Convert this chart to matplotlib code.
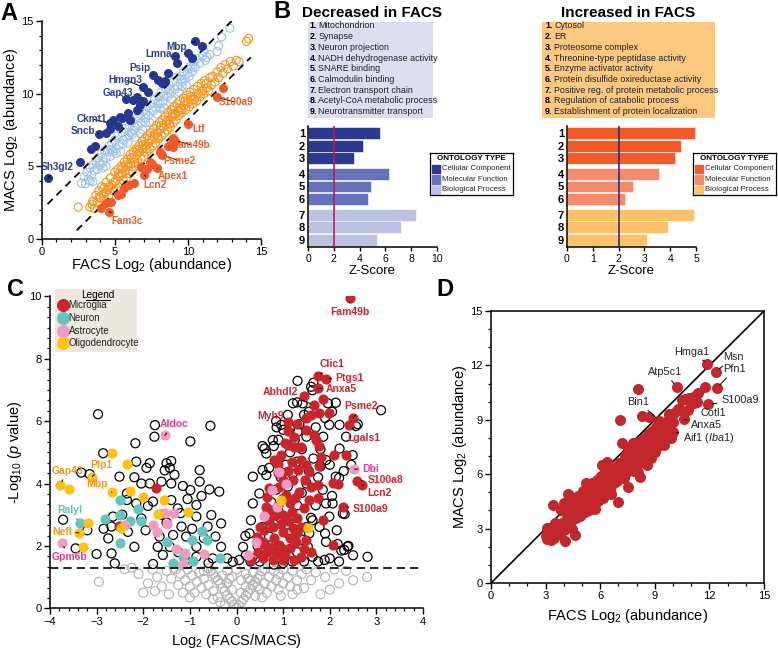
import numpy as np
import matplotlib
matplotlib.use('Agg')
import matplotlib.pyplot as plt
from matplotlib.ticker import MultipleLocator
from matplotlib.patches import Rectangle

plt.rcParams['font.family'] = ['Liberation Sans', 'DejaVu Sans']
plt.rcParams['mathtext.fontset'] = 'custom'
plt.rcParams['mathtext.rm'] = 'Liberation Sans'
plt.rcParams['mathtext.it'] = 'Liberation Sans:italic'
plt.rcParams['mathtext.bf'] = 'Liberation Sans:bold'

# ---------------- panel A data (FACS vs MACS log2 abundance) ----------------
a_up_names = ['Sh3gl2', 'Sncb', 'Ckmt1', 'Gap43', 'Hmgn3', 'Psip', 'Lmna', 'Mbp']
a_up = np.array([(0.45, 4.18), (3.9, 7.23), (4.67, 7.96), (5.76, 9.63), (6.95, 10.44),
                 (7.64, 11.3), (9.12, 12.56), (10.5, 13.59),
                 (2.62, 5.28), (3.35, 6.17), (3.65, 6.4), (4.67, 7.6), (5.24, 7.77),
                 (5.47, 8.3), (5.92, 8.65), (6.49, 8.9), (6.72, 9.24), (6.26, 9.58),
                 (6.49, 9.77), (6.95, 9.47), (7.98, 10.96), (8.21, 10.73), (8.67, 11.42),
                 (8.44, 10.85), (9.24, 12.1), (10.04, 12.79), (10.27, 12.44), (10.95, 13.31),
                 (4.85, 8.19), (5.35, 8.42), (6.03, 8.19), (4.4, 7.3), (7.3, 10.1)])
a_down_names = ['S100a9', 'Ltf', 'Fam49b', 'Psme2', 'Apex1', 'Lcn2', 'Fam3c']
a_down = np.array([(11.96, 9.75), (10.02, 7.91), (9.11, 6.77), (8.2, 5.78), (7.9, 4.88),
                   (7.03, 4.39), (4.63, 1.88),
                   (12.37, 10.38), (9.0, 6.93), (8.88, 6.59), (8.65, 6.4), (8.09, 6.01),
                   (7.44, 5.33), (7.55, 5.17), (7.17, 4.8), (6.76, 4.98), (6.3, 3.83),
                   (5.97, 3.72), (5.22, 3.03), (5.4, 3.1), (4.74, 2.57), (4.4, 2.5),
                   (4.06, 2.11), (8.95, 6.3), (5.6, 3.5)])
a_light = np.array([
    (2.73, 3.83), (2.9, 4.3), (3.0, 3.8), (3.1, 4.6), (3.2, 4.1), (3.3, 4.9), (3.4, 4.4),
    (3.5, 5.1), (3.6, 4.7), (3.5, 3.95), (3.7, 5.4), (3.8, 4.8), (3.9, 5.6), (4.0, 5.1),
    (4.1, 5.9), (4.2, 5.3), (4.3, 6.1), (4.4, 5.6), (4.5, 6.0), (4.4, 5.0), (4.6, 6.4),
    (4.7, 5.7), (4.8, 6.6), (4.9, 6.0), (5.0, 6.8), (5.1, 6.2), (5.2, 7.1), (5.3, 6.5),
    (5.4, 6.0), (5.5, 7.3), (5.6, 6.8), (5.7, 7.6), (5.8, 7.0), (5.9, 6.6), (6.0, 7.8),
    (6.1, 7.3), (6.2, 8.1), (6.3, 7.5), (6.4, 7.0), (6.5, 8.3), (6.6, 7.8), (6.7, 8.6),
    (6.8, 8.0), (6.9, 7.5), (7.0, 8.8), (7.1, 8.3), (7.2, 9.1), (7.3, 8.5), (7.4, 8.0),
    (7.5, 9.3), (7.6, 8.8), (7.7, 9.6), (7.8, 9.0), (7.9, 8.6), (8.0, 9.8), (8.1, 9.3),
    (8.2, 10.1), (8.3, 9.5), (8.4, 9.0), (8.5, 10.3), (8.6, 9.8), (8.7, 10.6), (8.8, 10.0),
    (8.9, 9.6), (9.0, 10.8), (9.1, 10.3), (9.2, 11.1), (9.3, 10.5), (9.4, 10.1),
    (9.5, 11.2), (9.6, 10.8), (9.7, 11.5), (9.8, 11.0), (9.9, 10.6), (10.0, 11.7),
    (10.1, 11.2), (10.2, 11.9), (10.3, 11.5), (10.4, 12.2), (10.5, 11.8), (10.6, 12.4),
    (10.8, 12.1), (11.0, 12.6), (11.1, 12.9), (11.3, 12.5), (11.5, 12.7), (12.0, 12.9),
    (12.1, 13.3), (12.3, 13.9), (12.87, 14.5), (6.2, 7.2), (7.1, 8.0), (8.1, 9.0),
    (9.6, 10.5), (5.1, 5.9), (4.2, 4.9), (3.3, 4.0), (3.95, 5.25), (4.75, 6.15),
    (5.55, 6.55), (6.35, 7.75), (7.15, 8.65), (7.95, 9.35), (8.75, 10.25), (9.55, 10.95),
    (10.35, 11.85), (11.2, 12.3), (6.75, 7.25), (8.35, 9.85), (9.95, 11.35), (5.95, 7.15)])
a_orange = np.array([
    (2.5, 2.2), (3.3, 2.2), (3.5, 2.6), (3.6, 2.1), (3.7, 3.0), (3.8, 2.5), (3.9, 3.3),
    (4.0, 2.8), (4.1, 3.6), (4.2, 3.1), (4.3, 2.7), (4.4, 3.9), (4.5, 3.4), (4.6, 3.0),
    (4.7, 4.2), (4.8, 3.7), (4.9, 3.3), (5.0, 4.6), (5.05, 4.0), (5.1, 3.5), (5.2, 4.8),
    (5.3, 4.3), (5.35, 3.8), (5.45, 5.0), (5.5, 4.5), (5.6, 4.0), (5.65, 5.3), (5.7, 4.7),
    (5.8, 4.2), (5.85, 5.5), (5.9, 5.0), (6.0, 4.5), (6.05, 5.8), (6.1, 5.2), (6.2, 4.7),
    (6.25, 6.0), (6.3, 5.5), (6.4, 5.0), (6.45, 6.2), (6.5, 5.8), (6.6, 5.2), (6.65, 6.4),
    (6.7, 6.0), (6.8, 5.5), (6.85, 6.7), (6.9, 6.2), (7.0, 5.7), (7.05, 6.9), (7.1, 6.4),
    (7.2, 6.0), (7.25, 7.1), (7.3, 6.6), (7.4, 6.2), (7.45, 7.3), (7.5, 6.8), (7.6, 6.4),
    (7.65, 7.6), (7.7, 7.0), (7.8, 6.6), (7.85, 7.8), (7.9, 7.3), (8.0, 6.9), (8.05, 8.0),
    (8.1, 7.5), (8.2, 7.1), (8.25, 8.2), (8.3, 7.7), (8.4, 7.3), (8.45, 8.4), (8.5, 7.9),
    (8.6, 7.5), (8.65, 8.7), (8.7, 8.2), (8.8, 7.7), (8.85, 8.9), (8.9, 8.4), (9.0, 8.0),
    (9.05, 9.1), (9.1, 8.6), (9.2, 8.2), (9.25, 9.3), (9.3, 8.8), (9.4, 8.5), (9.45, 9.5),
    (9.5, 9.0), (9.6, 8.7), (9.7, 9.7), (9.75, 9.2), (9.85, 8.9), (9.9, 9.9), (10.0, 9.4),
    (10.1, 9.1), (10.15, 10.1), (10.25, 9.6), (10.35, 9.3), (10.4, 10.3), (10.5, 9.8),
    (10.6, 9.5), (10.65, 10.5), (10.75, 10.0), (10.85, 9.8), (10.9, 10.7), (11.0, 10.2),
    (11.1, 10.0), (11.15, 10.9), (11.3, 10.4), (11.4, 10.2), (11.5, 11.1), (11.6, 10.6),
    (11.7, 11.2), (11.85, 10.8), (12.0, 11.5), (12.1, 11.1), (12.25, 11.8), (12.4, 11.4),
    (12.55, 12.0), (12.7, 11.7), (12.9, 12.2), (13.1, 11.9), (13.3, 12.3), (13.5, 12.2),
    (14.0, 13.6), (14.15, 13.8), (4.6, 3.6), (5.4, 4.4), (6.15, 5.6), (6.95, 6.5),
    (7.75, 7.2), (8.55, 8.1), (9.35, 9.0), (10.2, 9.8), (5.75, 5.1), (7.35, 6.9),
    (8.95, 8.6), (4.25, 3.5), (3.95, 2.9), (4.35, 3.2), (4.95, 3.9), (5.55, 4.9),
    (6.35, 5.3), (7.15, 6.2), (7.95, 7.0), (8.75, 7.9), (9.55, 8.9), (10.45, 9.6),
    (11.25, 10.7), (6.55, 6.1), (8.15, 7.8), (9.8, 9.5), (5.25, 4.5), (3.45, 2.4)])

# ---------------- panel B data (GO enrichment z-scores) ----------------
b_dec_terms = ['Mitochondrion', 'Synapse', 'Neuron projection', 'NADH dehydrogenase activity',
               'SNARE binding', 'Calmodulin binding', 'Electron transport chain',
               'Acetyl-CoA metabolic process', 'Neurotransmitter transport']
b_dec_z = [5.55, 4.25, 3.6, 6.3, 4.9, 4.65, 8.35, 7.2, 5.35]
b_inc_terms = ['Cytosol', 'ER', 'Proteosome complex', 'Threonine-type peptidase activity',
               'Enzyme activator activity', 'Protein disulfide oxireductase activity',
               'Positive reg. of protein metabolic process', 'Regulation of catabolic process',
               'Establishment of protein localization']
b_inc_z = [4.97, 4.4, 4.2, 3.58, 2.57, 2.23, 4.94, 3.92, 3.1]
ontology_types = ['Cellular Component', 'Molecular Function', 'Biological Process']
z_cut = 2

# ---------------- panel C data (volcano) ----------------
c_gray = np.array([
    (0, 0.03), (0.05, 0.1), (-0.05, 0.12), (0.1, 0.2), (-0.1, 0.22), (0.15, 0.3), (-0.15, 0.3),
    (0.2, 0.4), (-0.2, 0.42), (0.25, 0.5), (-0.25, 0.55), (0.3, 0.62), (-0.3, 0.65),
    (0.35, 0.75), (-0.35, 0.8), (0.4, 0.85), (-0.4, 0.9), (0.45, 0.95), (-0.45, 1.0),
    (0.5, 1.05), (-0.5, 1.1), (0.55, 1.2), (-0.55, 1.2), (0.6, 1.25), (-0.6, 1.28),
    (0.1, 0.5), (0.2, 0.7), (0.3, 0.9), (0.1, 0.9), (0.2, 1.1), (0.35, 1.15), (-0.1, 0.6),
    (-0.2, 0.8), (-0.1, 1.0), (-0.3, 1.05), (-0.2, 1.2), (0.0, 1.25), (0.4, 0.4), (0.5, 0.6),
    (0.6, 0.8), (0.7, 1.0), (0.8, 1.2), (0.65, 0.5), (0.75, 0.7), (0.85, 0.9), (0.9, 1.1),
    (1.0, 1.25), (0.9, 0.6), (1.0, 0.8), (1.1, 1.0), (1.2, 1.2), (1.15, 0.7), (1.3, 0.9),
    (1.4, 1.1), (1.5, 1.25), (1.45, 0.65), (1.6, 0.9), (1.7, 1.15), (1.9, 1.0), (2.0, 0.6),
    (2.2, 0.8), (2.35, 1.2), (2.5, 0.9), (2.8, 1.0), (1.8, 0.45), (1.2, 0.45), (2.1, 1.25),
    (0.55, 0.35), (-0.4, 0.35), (-0.5, 0.55), (-0.6, 0.75), (-0.7, 0.95), (-0.8, 1.15),
    (-0.65, 0.45), (-0.75, 0.65), (-0.85, 0.85), (-0.95, 1.05), (-1.05, 1.25), (-0.9, 0.5),
    (-1.0, 0.7), (-1.1, 0.9), (-1.2, 1.1), (-1.3, 1.25), (-1.15, 0.5), (-1.25, 0.75),
    (-1.4, 0.95), (-1.5, 1.2), (-1.45, 0.45), (-1.6, 0.7), (-1.7, 1.0), (-1.8, 1.25),
    (-1.75, 0.55), (-2.0, 0.5), (-2.1, 1.1), (-2.25, 1.3), (-2.4, 1.25), (-2.95, 0.85),
    (-1.35, 1.3), (-1.9, 0.8), (-0.35, 0.2), (-0.25, 0.1), (-0.5, 0.3), (-0.15, 0.95),
    (0.25, 0.95), (0.45, 0.7), (-0.7, 1.2), (1.3, 0.6), (0.95, 0.4), (-1.0, 0.35)])
c_black = np.array([
    # left arm
    (-2.97, 6.22), (-1.75, 5.87), (-0.56, 5.85), (-1.76, 5.5), (-0.99, 5.35), (-2.17, 5.29),
    (-2.86, 4.97), (-2.15, 4.7), (-3.15, 4.3), (-3.33, 4.35), (-1.86, 4.65), (-1.93, 4.5),
    (-1.5, 4.65), (-1.4, 4.72), (-1.43, 4.5), (-1.54, 4.42), (-1.33, 4.28), (-0.79, 4.43),
    (-2.51, 4.22), (-2.19, 4.2), (-1.61, 4.06), (-1.86, 4.0), (-1.4, 4.0), (-1.15, 3.92),
    (-0.58, 3.81), (-0.37, 3.74), (-0.99, 3.79), (-0.79, 4.06), (-2.35, 3.68), (-2.35, 3.47),
    (-2.15, 3.36), (-1.9, 3.28), (-1.79, 3.42), (-1.4, 3.47), (-1.26, 3.2), (-0.86, 3.31),
    (-0.86, 2.94), (-0.54, 2.99), (-0.33, 2.72), (-0.62, 2.62), (-1.18, 2.62), (-1.08, 2.3),
    (-1.36, 2.35), (-1.43, 1.97), (-0.86, 1.97), (-0.33, 1.97), (-1.58, 1.71), (-0.86, 1.65),
    (-0.51, 1.6), (-0.08, 1.49), (-1.04, 1.44), (-2.65, 2.94), (-2.68, 2.62), (-2.75, 2.24),
    (-2.68, 1.76), (-2.61, 1.44), (-2.33, 2.45), (-2.04, 2.88), (-1.69, 1.97), (-2.19, 1.97),
    (-1.79, 1.42), (-3.0, 1.74), (-3.45, 1.92), (-3.72, 2.84), (-3.2, 2.5), (-2.04, 4.0),
    (-1.6, 3.0), (-1.2, 3.05), (-0.95, 2.55), (-0.7, 2.25), (-0.45, 2.3), (-1.25, 1.8),
    (-0.6, 1.45), (-1.5, 2.75), (-0.2, 1.6), (-1.1, 1.55), (-2.45, 3.0), (-1.95, 2.5),
    (-2.85, 2.55), (-1.65, 2.3), (-0.75, 3.6), (-1.05, 3.5),
    # right arm
    (1.31, 7.29), (1.65, 7.23), (1.63, 6.99), (1.21, 6.57), (1.42, 6.57), (1.3, 6.6),
    (1.96, 6.57), (2.13, 6.59), (3.1, 6.35), (2.21, 5.88), (2.56, 5.84), (1.99, 5.88),
    (1.86, 5.5), (0.96, 5.88), (1.0, 5.72), (1.31, 5.66), (0.78, 5.39), (0.6, 5.12),
    (1.92, 4.75), (2.21, 5.12), (2.49, 4.91), (2.46, 4.6), (2.13, 4.22), (2.2, 4.18),
    (2.28, 3.04), (2.32, 3.02), (2.06, 3.36), (2.81, 1.65), (1.92, 2.13), (2.17, 2.06),
    (2.31, 1.87), (2.38, 1.98), (1.89, 1.55), (1.63, 1.65), (1.53, 1.97), (1.56, 2.4),
    (1.63, 2.82), (1.78, 2.61), (1.92, 3.36), (1.99, 2.94), (0.14, 1.97), (0.06, 1.55),
    (0.28, 2.4), (0.31, 2.82), (0.35, 3.36), (0.49, 3.68), (0.35, 4.22), (0.56, 4.43),
    (0.64, 4.96), (0.19, 2.32), (0.64, 4.27), (0.56, 5.2), (0.86, 5.8), (0.8, 5.2),
    (0.5, 1.5), (0.6, 1.8), (0.7, 2.3), (0.8, 2.7), (0.9, 3.1), (1.0, 3.5), (1.1, 3.9),
    (1.2, 4.3), (1.3, 4.7), (1.4, 5.1), (1.5, 5.5), (0.55, 2.6), (0.65, 3.0), (0.75, 3.4),
    (0.85, 3.8), (0.95, 4.2), (1.05, 4.6), (1.15, 5.0), (1.25, 5.4), (1.35, 5.9), (1.45, 6.2),
    (1.55, 4.4), (1.65, 4.8), (1.75, 4.2), (1.85, 3.8), (1.7, 3.3), (1.6, 2.9), (1.5, 2.6),
    (1.4, 2.2), (1.3, 1.8), (1.2, 1.5), (0.4, 1.6), (0.45, 2.0), (1.75, 1.5), (2.0, 1.6),
    (2.2, 1.5), (1.9, 2.4), (2.05, 3.6), (1.8, 5.1), (1.7, 5.8), (1.55, 6.3), (1.1, 6.2),
    (0.85, 6.0), (0.7, 4.5), (0.9, 5.4), (2.0, 4.6), (2.3, 4.4), (2.4, 2.0), (2.5, 1.7),
    (1.0, 1.45), (0.8, 1.4), (0.3, 1.5), (0.2, 1.7), (0.9, 2.0), (1.1, 2.4), (1.2, 2.9),
    (1.3, 3.3), (1.4, 3.7), (1.5, 4.0), (1.9, 6.1), (2.05, 6.3), (2.6, 5.9), (1.6, 7.1),
    (2.25, 1.85), (2.35, 5.5), (1.15, 5.75), (1.8, 4.55), (2.15, 2.5), (1.45, 1.5)])
c_red_names = ['Fam49b', 'Clic1', 'Ptgs1', 'Anxa5', 'Abhdl2', 'Psme2', 'Lgals1', 'Myh9',
               'S100a8', 'Lcn2', 'S100a9']
c_red = np.array([
    (2.43, 9.95), (1.74, 7.43), (1.91, 7.35), (1.74, 7.05), (1.67, 6.51), (2.5, 6.09),
    (2.42, 5.87), (1.1, 5.98), (2.59, 4.08), (2.69, 3.95), (2.28, 3.26),
    (1.48, 6.09), (1.6, 6.2), (1.78, 6.25), (1.99, 6.27), (1.1, 5.69), (1.24, 5.48),
    (1.1, 5.23), (1.24, 5.18), (1.38, 5.16), (1.67, 5.55), (1.71, 5.39), (1.76, 5.2),
    (1.81, 4.86), (2.1, 4.91), (2.35, 4.91), (1.76, 4.56), (1.56, 4.38), (2.17, 4.0),
    (2.08, 4.02), (1.74, 3.95), (1.74, 3.52), (1.38, 4.75), (1.31, 4.43), (1.21, 4.11),
    (1.46, 4.11), (1.35, 3.74), (1.56, 3.47), (1.06, 3.63), (1.14, 3.36), (0.81, 4.75),
    (0.89, 4.64), (0.66, 3.58), (0.63, 3.26), (0.74, 3.15), (0.84, 2.99), (0.78, 2.61),
    (0.99, 2.45), (1.21, 2.56), (1.38, 2.61), (0.56, 2.14), (0.71, 1.97), (0.92, 2.03),
    (1.14, 1.92), (1.28, 2.14), (0.46, 1.81), (0.56, 1.6), (0.31, 1.55), (0.78, 1.55),
    (0.99, 1.55), (1.24, 1.55), (1.38, 1.65), (2.08, 2.03), (1.85, 2.83), (0.92, 3.9),
    (0.6, 2.5), (0.7, 2.8), (0.9, 3.3), (1.0, 3.0), (1.1, 2.8), (1.2, 3.1), (1.3, 2.9),
    (1.45, 3.2), (1.5, 2.2), (1.6, 1.8), (0.85, 1.75), (1.05, 1.7), (0.65, 1.8), (1.45, 1.9),
    (1.0, 4.1), (1.1, 4.4), (1.2, 4.7), (0.95, 4.9), (1.3, 5.9), (1.5, 5.7), (1.45, 6.8),
    (1.85, 6.7), (0.5, 2.6), (0.45, 2.3), (1.5, 4.6), (1.6, 3.9), (1.05, 5.3), (0.9, 4.35),
    (0.7, 3.85), (1.25, 3.55), (0.95, 2.7), (0.8, 2.25), (1.15, 2.25), (1.3, 2.4), (1.0, 1.9),
    (0.6, 2.05), (-1.72, 3.87), (-2.51, 2.64)])
c_teal_names = ['Ralyl']
c_teal = np.array([(-3.36, 2.75), (-2.5, 3.47), (-2.83, 2.85), (-2.5, 2.99), (-2.28, 2.81),
                   (-2.12, 3.18), (-2.04, 2.81), (-2.5, 2.1), (-1.49, 2.14), (-0.95, 2.19),
                   (-0.74, 2.49), (-0.64, 2.2), (-0.94, 1.52), (-1.36, 1.44), (-0.35, 1.6),
                   (-1.15, 1.65)])
c_pink_names = ['Aldoc', 'Gpm6b', 'Dbi']
c_pink = np.array([(-1.54, 5.54), (-3.75, 2.1), (2.53, 4.46), (-2.4, 2.67), (-1.79, 2.67),
                   (-1.71, 2.46), (-1.49, 2.69), (-1.53, 3.04), (-1.33, 3.06), (-1.29, 1.89),
                   (-1.11, 1.76), (-0.69, 1.73), (-1.15, 1.43), (0.92, 4.38), (1.06, 3.99),
                   (0.76, 3.79), (0.87, 3.26), (0.6, 2.97), (0.42, 2.14), (0.24, 1.7)])
c_yellow_names = ['Gap43', 'Plp1', 'Mbp', 'Nefl']
c_yellow = np.array([(-3.79, 3.94), (-3.09, 4.22), (-2.67, 3.72), (-3.38, 2.42),
                     (-2.68, 4.97), (-2.35, 4.62), (-3.6, 3.82), (-2.28, 3.77), (-2.01, 3.56),
                     (-1.56, 3.47), (-1.69, 3.02), (-1.04, 3.1), (-3.18, 2.72), (-3.29, 1.95),
                     (-2.47, 2.56), (1.53, 2.56), (0.96, 3.47)])
p_cut = 1.3

# ---------------- panel D data (microglia proteins) ----------------
d_names = ['Hmga1', 'Msn', 'Pfn1', 'Atp5c1', 'Bin1', 'S100a9', 'Cotl1', 'Anxa5', 'Aif1']
d_pts = np.array([
    (11.89, 12.08), (12.36, 11.65), (12.4, 10.74), (10.2, 10.79), (9.25, 8.95), (11.92, 9.85),
    (11.15, 9.94), (10.6, 9.03), (9.98, 8.35),
    (3.0, 2.6), (3.05, 3.05), (3.1, 2.4), (3.2, 2.8), (3.3, 2.35), (3.35, 3.0), (3.45, 2.5),
    (3.42, 4.3), (3.6, 2.9), (3.7, 3.1), (3.8, 2.7), (3.85, 4.0), (3.9, 3.3), (4.0, 2.9),
    (4.08, 2.33), (4.1, 3.5), (4.15, 3.8), (4.2, 3.2), (4.25, 4.9), (4.3, 3.6), (4.35, 4.2),
    (4.4, 3.4), (4.5, 4.7), (4.55, 3.8), (4.6, 2.64), (4.6, 4.1), (4.65, 3.6), (4.7, 4.4),
    (4.75, 3.9), (4.8, 4.8), (4.85, 4.2), (4.9, 3.7), (4.95, 4.6), (5.0, 4.0), (5.05, 5.1),
    (5.1, 4.4), (5.15, 3.9), (5.2, 4.8), (5.25, 4.2), (5.3, 5.3), (5.35, 4.6), (5.4, 4.0),
    (5.45, 5.0), (5.5, 4.4), (5.55, 5.5), (5.6, 4.8), (5.65, 4.3), (5.7, 5.2), (5.75, 4.6),
    (5.8, 5.7), (5.85, 5.0), (5.9, 4.5), (5.95, 5.4), (6.0, 4.9), (6.05, 5.9), (6.1, 5.2),
    (6.15, 4.7), (6.2, 5.6), (6.25, 6.2), (6.3, 5.0), (6.35, 5.8), (6.4, 6.7), (6.45, 5.4),
    (6.5, 6.0), (6.55, 5.2), (6.6, 6.4), (6.65, 5.7), (6.7, 6.0), (6.75, 5.5), (6.8, 6.3),
    (6.85, 5.9), (6.9, 6.1), (6.95, 5.6), (7.0, 4.45), (7.05, 6.6), (7.09, 8.99), (7.1, 6.0),
    (7.2, 7.7), (7.25, 6.4), (7.3, 5.8), (7.35, 7.0), (7.4, 6.6), (7.45, 6.1), (7.5, 7.5),
    (7.55, 5.27), (7.6, 6.9), (7.65, 6.4), (7.7, 7.3), (7.75, 6.8), (7.8, 7.7), (7.85, 6.2),
    (7.9, 7.1), (7.95, 6.6), (8.0, 7.5), (8.05, 6.1), (8.1, 10.68), (8.15, 7.8), (8.19, 5.86),
    (8.2, 7.2), (8.25, 6.7), (8.3, 9.2), (8.35, 7.6), (8.4, 8.0), (8.45, 7.0), (8.5, 7.7),
    (8.55, 6.5), (8.6, 8.2), (8.65, 7.4), (8.7, 9.15), (8.75, 7.9), (8.8, 6.9), (8.85, 8.4),
    (8.9, 7.6), (8.95, 8.0), (9.0, 7.2), (9.05, 8.6), (9.1, 7.5), (9.15, 8.1), (9.3, 7.8),
    (9.4, 8.4), (9.5, 7.6), (9.55, 8.7), (9.6, 8.1), (9.7, 9.0), (9.75, 8.4), (9.8, 9.3),
    (9.85, 8.6), (9.9, 8.0), (10.0, 8.9), (10.05, 9.4), (10.3, 9.6), (10.4, 9.54),
    (10.5, 10.1), (10.66, 10.13), (10.85, 9.54), (10.9, 10.2), (11.0, 9.9), (11.2, 10.3),
    (11.3, 10.0), (11.4, 10.5), (11.75, 10.8), (5.2, 5.5), (4.0, 4.4), (6.1, 6.5),
    (3.5, 3.3), (4.45, 3.0), (5.7, 4.1), (6.6, 4.9)])

# ---------------- figure ----------------
W, H = 778, 651
fig = plt.figure(figsize=(W / 100, H / 100), dpi=100)


def px_axes(x0, y0, x1, y1):
    return fig.add_axes([x0 / W, 1 - y1 / H, (x1 - x0) / W, (y1 - y0) / H])


def style_axes(ax, box=False):
    for s in ['top', 'right']:
        ax.spines[s].set_visible(box)
    for s in ax.spines.values():
        s.set_linewidth(1.1)
    ax.tick_params(which='major', direction='out', length=4, width=1, labelsize=8, pad=2)
    ax.tick_params(which='minor', direction='out', length=2.5, width=0.9)


def label_pts(ax, names, pts, spots, color, weight='bold', size=7.2, lc='k'):
    for i, name in enumerate(names):
        tx, ty = spots[name]
        ax.annotate(name, xy=pts[i], xytext=(tx, ty), ha='center', va='center',
                    fontsize=size, fontweight=weight, color=color, zorder=6,
                    arrowprops=dict(arrowstyle='-', color=lc, lw=0.7, shrinkA=1, shrinkB=3))


def axis_labels(ax, xl, yl, xpos, ypos):
    ax.set_xlabel(xl, fontsize=10.5)
    ax.set_ylabel(yl, fontsize=10.5)
    ax.xaxis.set_label_coords(0.5, xpos)
    ax.yaxis.set_label_coords(ypos, 0.5)


# panel A
axA = px_axes(41.7, 21, 261, 239)
axA.scatter(a_light[:, 0], a_light[:, 1], s=34, facecolors='none', edgecolors='#9dc3e6', linewidths=0.8)
axA.scatter(a_orange[:, 0], a_orange[:, 1], s=34, facecolors='none', edgecolors='#f7941d', linewidths=0.8)
xs = np.array([0.4, 13.0])
axA.plot(xs, xs + 2.0, color='k', ls=(0, (4, 3)), lw=1.3)
xs = np.array([2.4, 14.3])
axA.plot(xs, xs - 1.8, color='k', ls=(0, (4, 3)), lw=1.3)
axA.scatter(a_up[:, 0], a_up[:, 1], s=30, color='#27378f', zorder=3)
axA.scatter(a_down[:, 0], a_down[:, 1], s=30, color='#ee5a2a', zorder=3)
label_pts(axA, a_up_names, a_up, {'Sh3gl2': (1.07, 4.98), 'Sncb': (2.79, 7.43), 'Ckmt1': (3.46, 8.26),
                                   'Gap43': (5.24, 10.07), 'Hmgn3': (5.74, 10.94), 'Psip': (6.72, 11.75),
                                   'Lmna': (8.0, 12.71), 'Mbp': (9.25, 13.2)}, '#2e3e94')
label_pts(axA, a_down_names, a_down, {'S100a9': (13.28, 9.41), 'Ltf': (10.73, 7.57), 'Fam49b': (10.25, 6.47),
                                       'Psme2': (9.43, 5.39), 'Apex1': (9.0, 4.34), 'Lcn2': (7.74, 3.72),
                                       'Fam3c': (5.83, 1.24)}, '#f15a29')
axA.set_xlim(0, 15)
axA.set_ylim(0, 15)
axA.xaxis.set_major_locator(MultipleLocator(5))
axA.xaxis.set_minor_locator(MultipleLocator(1))
axA.yaxis.set_major_locator(MultipleLocator(5))
axA.yaxis.set_minor_locator(MultipleLocator(1))
style_axes(axA)
axis_labels(axA, 'FACS Log$_2$ (abundance)', 'MACS Log$_2$ (abundance)', -0.078, -0.1)

# panel B


def go_panel(x0, ax_x0, x1, xmax, box_x1, title, terms, z, colors, box_bg, vcol, leg_x0, leg_x1,
             num_x, name_x, title_x):
    fig.text(title_x / W, 1 - 13 / H, title, ha='center', va='center', fontsize=11, fontweight='bold')
    tb = px_axes(x0, 22, box_x1, 118)
    tb.set_facecolor(box_bg)
    tb.set_xticks([])
    tb.set_yticks([])
    for s in tb.spines.values():
        s.set_visible(False)
    for i, t in enumerate(terms):
        yy = 1 - (26 + 10.7 * i - 22) / 96
        tb.text((num_x - x0) / (box_x1 - x0), yy, '%d.' % (i + 1), fontsize=6.4, fontweight='bold',
                va='center', transform=tb.transAxes)
        tb.text((name_x - x0) / (box_x1 - x0), yy, t, fontsize=6.4, color='#222222',
                va='center', transform=tb.transAxes)

    ax = px_axes(ax_x0, 126, x1, 247)
    pos = [i + 0.22 * (i // 3) for i in range(len(z))]
    ax.barh(pos, z, height=0.94, color=[colors[i // 3] for i in range(len(z))],
            edgecolor='white', linewidth=0.4, zorder=2)
    ax.axvline(z_cut, color=vcol, lw=1.2, zorder=3)
    ax.set_ylim(pos[-1] + 0.55, -0.55)
    ax.set_xlim(0, xmax)
    ax.set_yticks(pos)
    ax.set_yticklabels([str(i + 1) for i in range(len(z))], fontweight='bold', fontsize=8.5)
    ax.xaxis.set_major_locator(MultipleLocator(2 if xmax == 10 else 1))
    style_axes(ax)
    ax.tick_params(axis='y', length=0, pad=2)
    ax.tick_params(axis='x', labelsize=7.5, length=3)
    ax.set_xlabel('Z-Score', fontsize=9.5, labelpad=1)

    lg = px_axes(leg_x0, 153, leg_x1, 195)
    lg.set_xticks([])
    lg.set_yticks([])
    for s in lg.spines.values():
        s.set_linewidth(0.9)
    lg.set_xlim(0, leg_x1 - leg_x0)
    lg.set_ylim(42, 0)
    lg.text((leg_x1 - leg_x0) / 2, 6, 'ONTOLOGY TYPE', ha='center', va='center', fontsize=5.8,
            fontweight='bold')
    for k, name in enumerate(ontology_types):
        yy = 16 + 10.5 * k
        lg.add_patch(Rectangle((2, yy - 4.3), 8, 8.6, color=colors[k]))
        lg.text(12, yy, name, va='center', fontsize=5.6, color='#222222', clip_on=True)


go_panel(308, 308, 437, 10, 433, 'Decreased in FACS', b_dec_terms, b_dec_z,
         ['#2b3990', '#6571b8', '#bcc2e3'], '#dcdeef', '#b5205a', 430, 513, 309.5, 318.5, 372)
go_panel(542, 567, 696, 5, 715, 'Increased in FACS', b_inc_terms, b_inc_z,
         ['#f15a29', '#f58b6c', '#fdc16a'], '#fdc882', '#2e3170', 693, 776, 545, 554.5, 628)

# panel C
axC = px_axes(50, 296.3, 423, 608.3)
axC.scatter(c_gray[:, 0], c_gray[:, 1], s=42, facecolors='none', edgecolors='#b3b3b3', linewidths=0.8)
axC.scatter(c_black[:, 0], c_black[:, 1], s=42, facecolors='none', edgecolors='k', linewidths=0.9)
cell_cols = {'Microglia': '#c9252c', 'Neuron': '#63c5bd', 'Astrocyte': '#f29bc1',
             'Oligodendrocyte': '#fcc315'}
axC.scatter(c_red[:, 0], c_red[:, 1], s=40, color=cell_cols['Microglia'], zorder=3)
axC.scatter(c_teal[:, 0], c_teal[:, 1], s=40, color=cell_cols['Neuron'], zorder=3)
axC.scatter(c_pink[:, 0], c_pink[:, 1], s=40, color=cell_cols['Astrocyte'], zorder=3)
axC.scatter(c_yellow[:, 0], c_yellow[:, 1], s=40, color=cell_cols['Oligodendrocyte'], zorder=3)
axC.axhline(p_cut, color='k', ls=(0, (5, 3)), lw=1.2, zorder=4)
label_pts(axC, c_red_names, c_red, {'Fam49b': (2.43, 9.5), 'Clic1': (2.06, 7.83), 'Ptgs1': (2.43, 7.39),
                                     'Anxa5': (2.25, 7.02), 'Abhdl2': (0.95, 6.94), 'Psme2': (2.68, 6.48),
                                     'Lgals1': (2.73, 5.45), 'Myh9': (0.74, 6.17), 'S100a8': (3.19, 4.11),
                                     'Lcn2': (3.07, 3.71), 'S100a9': (2.88, 3.19)}, '#d2232a', size=7.5)
label_pts(axC, c_pink_names, c_pink, {'Aldoc': (-1.33, 5.9), 'Gpm6b': (-3.58, 1.65), 'Dbi': (2.88, 4.46)},
          '#e8398f', size=7.5)
label_pts(axC, c_yellow_names, c_yellow, {'Gap43': (-3.62, 4.41), 'Plp1': (-2.9, 4.58), 'Mbp': (-3.0, 3.98),
                                           'Nefl': (-3.75, 2.43)}, '#f7941d', size=7.5)
label_pts(axC, c_teal_names, c_teal, {'Ralyl': (-3.58, 3.15)}, '#5fc3bb', size=7.5)
axC.set_xlim(-4, 4)
axC.set_ylim(0, 10)
axC.xaxis.set_major_locator(MultipleLocator(1))
axC.xaxis.set_minor_locator(MultipleLocator(0.2))
axC.yaxis.set_major_locator(MultipleLocator(2))
axC.yaxis.set_minor_locator(MultipleLocator(1 / 3))
style_axes(axC)
axis_labels(axC, 'Log$_2$ (FACS/MACS)', '-Log$_{10}$ ($p$ value)', -0.075, -0.07)

lgC = px_axes(55, 289, 137, 352)
lgC.set_facecolor('#ebe8df')
lgC.set_xticks([])
lgC.set_yticks([])
for s in lgC.spines.values():
    s.set_visible(False)
lgC.set_xlim(0, 82)
lgC.set_ylim(63, 0)
lgC.text(43, 6, 'Legend', ha='center', va='center', fontsize=7.2)
lgC.plot([31, 55], [10.8, 10.8], color='k', lw=0.7)
for k, name in enumerate(cell_cols):
    yy = 16 + 12.8 * k
    lgC.scatter([8], [yy], s=70, color=cell_cols[name], clip_on=False)
    lgC.text(13.5, yy, name, va='center', fontsize=7.0, color='#222222')

# panel D
axD = px_axes(491, 311, 764, 583)
axD.plot([0, 15], [0, 15], color='k', lw=1.2)
axD.scatter(d_pts[:, 0], d_pts[:, 1], s=48, color='#c1272d', zorder=3)
label_pts(axD, d_names, d_pts, {'Hmga1': (11.03, 12.76), 'Msn': (13.3, 12.45), 'Pfn1': (13.4, 11.8),
                                'Atp5c1': (9.56, 11.65), 'Bin1': (8.1, 10.0), 'S100a9': (13.68, 10.09),
                                'Cotl1': (12.2, 9.36), 'Anxa5': (11.85, 8.72), 'Aif1': (11.94, 7.98)},
          '#222222', weight='normal', size=7.8)
# italic gene alias for Aif1
for t in axD.texts:
    if t.get_text() == 'Aif1':
        t.set_text('Aif1 ($Iba1$)')
axD.set_xlim(0, 15)
axD.set_ylim(0, 15)
axD.xaxis.set_major_locator(MultipleLocator(3))
axD.xaxis.set_minor_locator(MultipleLocator(1))
axD.yaxis.set_major_locator(MultipleLocator(3))
axD.yaxis.set_minor_locator(MultipleLocator(1))
style_axes(axD, box=True)
axis_labels(axD, 'FACS Log$_2$ (abundance)', 'MACS Log$_2$ (abundance)', -0.09, -0.08)

# panel letters
for letter, (lx, ly) in {'A': (9, 13), 'B': (282, 12), 'C': (16, 290), 'D': (445, 289)}.items():
    fig.text(lx / W, 1 - ly / H, letter, ha='center', va='center', fontsize=17, fontweight='bold')

fig.savefig('out.png', dpi=100)
